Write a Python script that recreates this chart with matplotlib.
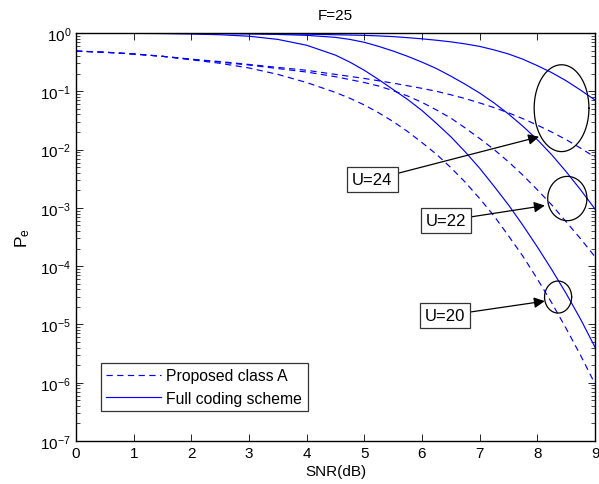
import numpy as np
import matplotlib
matplotlib.use("Agg")
import matplotlib.pyplot as plt
from matplotlib.ticker import LogLocator, NullFormatter

plt.rcParams['font.family'] = ['Liberation Sans', 'DejaVu Sans']
plt.rcParams['mathtext.fontset'] = 'custom'
plt.rcParams['mathtext.rm'] = 'Liberation Sans'
plt.rcParams['mathtext.default'] = 'regular'
plt.rcParams['lines.scale_dashes'] = False

# ---- data (SNR in dB, log10 of Pe) ----
snr = [0, 0.5, 1, 1.5, 2, 2.5, 3, 3.5, 4, 4.5,
       4.75, 5, 5.25, 5.5, 5.75, 6, 6.25, 6.5, 6.75, 7, 7.25, 7.5, 7.75, 8, 8.25, 8.5, 8.75, 9]

full_u24 = [-0.002, -0.002, -0.003, -0.004, -0.005, -0.007, -0.01, -0.014, -0.02, -0.03,
            -0.035, -0.04, -0.05, -0.062, -0.08, -0.10, -0.124, -0.152, -0.187, -0.23,
            -0.29, -0.36, -0.45, -0.56, -0.68, -0.82, -0.98, -1.15]
full_u22 = [-0.002, -0.003, -0.004, -0.005, -0.007, -0.01, -0.015, -0.025, -0.04, -0.075,
            -0.11, -0.16, -0.23, -0.31, -0.40, -0.50, -0.61, -0.74, -0.88, -1.03,
            -1.20, -1.39, -1.60, -1.83, -2.09, -2.38, -2.69, -3.02]
full_u20 = [-0.003, -0.004, -0.006, -0.01, -0.018, -0.03, -0.055, -0.11, -0.21, -0.38,
            -0.50, -0.64, -0.80, -0.97, -1.14, -1.33, -1.55, -1.78, -2.04, -2.32,
            -2.63, -2.95, -3.30, -3.67, -4.06, -4.47, -4.91, -5.39]

prop_u24 = [-0.31, -0.33, -0.36, -0.40, -0.45, -0.49, -0.54, -0.59, -0.64, -0.71,
            -0.745, -0.78, -0.82, -0.86, -0.905, -0.95, -1.00, -1.06, -1.125, -1.20,
            -1.28, -1.37, -1.47, -1.58, -1.70, -1.83, -1.975, -2.13]
prop_u22 = [-0.31, -0.33, -0.36, -0.40, -0.45, -0.50, -0.55, -0.61, -0.67, -0.75,
            -0.80, -0.85, -0.91, -0.99, -1.08, -1.19, -1.32, -1.46, -1.63, -1.81,
            -2.00, -2.21, -2.44, -2.69, -2.95, -3.24, -3.53, -3.84]
prop_u20 = [-0.31, -0.33, -0.36, -0.40, -0.46, -0.52, -0.60, -0.71, -0.85, -1.02,
            -1.12, -1.235, -1.37, -1.52, -1.69, -1.88, -2.08, -2.31, -2.56, -2.84,
            -3.14, -3.48, -3.83, -4.22, -4.63, -5.07, -5.53, -6.02]

labels = ["U=24", "U=22", "U=20"]
# annotation: (box x, box log10 y), (arrow tip x, tip log10 y), ellipse (cx, log cy, w, log h)
box_pos = [(5.14, -2.52), (6.42, -3.22), (6.40, -4.85)]
tip_pos = [(8.03, -1.78), (8.13, -2.96), (8.13, -4.60)]
ell = [(8.42, -1.29, 0.95, 1.49), (8.52, -2.84, 0.68, 0.76), (8.36, -4.53, 0.47, 0.55)]

fig = plt.figure(figsize=(5.99, 4.85), dpi=100)
ax = fig.add_axes([76/599, 1-442/485, 519/599, 408/485])

blue = (0, 0, 1)
dash = (0, (4.5, 3.2))
x = np.array(snr)
for i, p in enumerate([prop_u24, prop_u22, prop_u20]):
    ax.plot(x, 10**np.array(p), color=blue, lw=0.85, linestyle=dash,
            label="Proposed class A" if i == 0 else None)
for i, f in enumerate([full_u24, full_u22, full_u20]):
    ax.plot(x, 10**np.array(f), color=blue, lw=0.85,
            label="Full coding scheme" if i == 0 else None)

# ellipses and annotations
t = np.linspace(0, 2*np.pi, 200)
for (cx, cy, w, h) in ell:
    ax.plot(cx + w/2*np.cos(t), 10**(cy + h/2*np.sin(t)), color='k', lw=0.9)

for lab, (bx, by), (tx, ty) in zip(labels, box_pos, tip_pos):
    ax.annotate(lab, xy=(tx, 10**ty), xytext=(bx, 10**by),
                ha='center', va='center', fontsize=12,
                bbox=dict(boxstyle='square,pad=0.3', fc='white', ec='#333333', lw=0.9),
                arrowprops=dict(arrowstyle='-|>', color='k', lw=0.9,
                                mutation_scale=16, shrinkA=0, shrinkB=0))

ax.set_yscale('log')
ax.set_xlim(0, 9)
ax.set_ylim(1e-7, 1)
ax.set_xticks(range(0, 10))
ax.yaxis.set_major_locator(LogLocator(base=10, numticks=20))
ax.yaxis.set_minor_locator(LogLocator(base=10, subs=np.arange(2, 10), numticks=20))
ax.yaxis.set_minor_formatter(NullFormatter())
ax.tick_params(which='both', direction='in', top=True, right=True, labelsize=11)
ax.tick_params(which='major', length=5, width=0.6)
ax.tick_params(which='minor', length=3, width=0.5)
for s in ax.spines.values():
    s.set_linewidth(1.0)

ax.set_title("F=25", fontsize=11, pad=10)
ax.set_xlabel("SNR(dB)", fontsize=11, labelpad=3)
ax.set_ylabel(r"P$_e$", fontsize=12.5, labelpad=6)

leg = ax.legend(loc='lower left', bbox_to_anchor=(25/519, 30/408), fontsize=11.3,
                frameon=True, fancybox=False, edgecolor='k', handlelength=3.5,
                borderpad=0.35, labelspacing=0.45, handletextpad=0.3, borderaxespad=0)
leg.get_frame().set_linewidth(0.9)

fig.savefig("out.png", dpi=100)
